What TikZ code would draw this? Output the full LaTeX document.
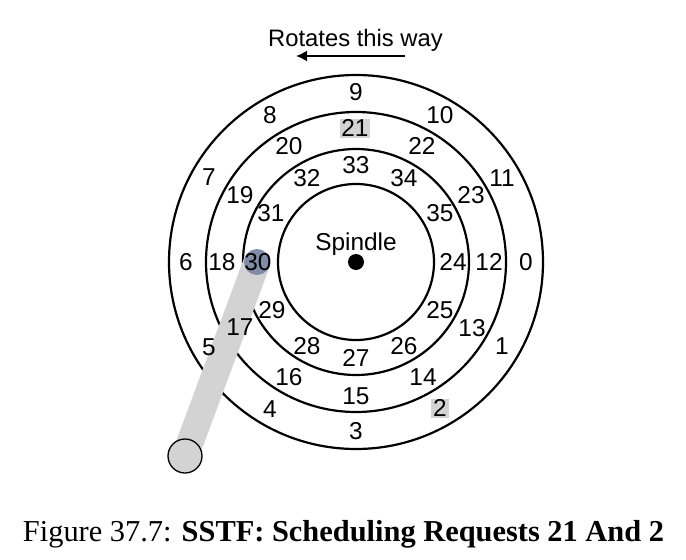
\documentclass[tikz,border=0pt]{standalone}
\usepackage{fontspec}
\setmainfont{Liberation Sans}
\newfontfamily\capfont{Liberation Serif}
\usetikzlibrary{arrows.meta}
\definecolor{armgrey}{HTML}{D3D3D3}
\definecolor{headblue}{HTML}{7F8EA6}
\tikzset{
  x=1pt,y=-1pt,
  ring/.style={circle,draw=black,line width=2.2pt,inner sep=0pt,outer sep=0pt,fill=none},
  sector/.style={inner sep=0pt,font=\fontsize{24.4}{26}\selectfont},
  req/.style={sector,fill=armgrey,minimum width=30pt,minimum height=19pt},
  reqsmall/.style={req,minimum width=18pt},
}
\begin{document}
\begin{tikzpicture}
\useasboundingbox (0,0) rectangle (686,560);
% platters
\node[ring,minimum size=374pt] (r4) at (356,262) {};
\node[ring,minimum size=300pt] (r3) at (356,262) {};
\node[ring,minimum size=226pt] (r2) at (356,262) {};
\node[ring,minimum size=156pt] (r1) at (356,262) {};
\node[circle,fill=black,inner sep=0pt,minimum size=16pt] (dot) at (356,262) {};
\node[sector] (spindle) at (356,244) {Spindle};
% arm
\coordinate (base) at (185,456);
\coordinate (head) at (257,262);
\draw[armgrey,line width=27pt] (head) -- (base);
\node[circle,fill=armgrey,draw=black,line width=1.3pt,minimum size=34pt,inner sep=0pt] (basedisc) at (base) {};
\node[circle,fill=headblue,inner sep=0pt,minimum size=26pt] (headdisc) at (head) {};
% title
\node[sector,font=\fontsize{23.8}{25}\selectfont] (title) at (355.5,40) {Rotates this way};
\coordinate (arrS) at (405,56);
\coordinate (arrE) at (296,56);
\draw[line width=1.8pt,-{Latex[length=11pt,width=11pt]}] (arrS) -- (arrE);
% outer track
\node[sector] (s9) at (356,92) {9};
\node[sector] (s8) at (270,115) {8};
\node[sector] (s10) at (440,115) {10};
\node[sector] (s7) at (209,177) {7};
\node[sector] (s11) at (502,178) {11};
\node[sector] (s6) at (186,262) {6};
\node[sector] (s0) at (526,262) {0};
\node[sector] (s5) at (209,347) {5};
\node[sector] (s1) at (502,346) {1};
\node[sector] (s4) at (270,409) {4};
\node[reqsmall] (s2) at (440,408) {2};
\node[sector] (s3) at (356,431) {3};
% middle track
\node[req] (s21) at (355,128) {21};
\node[sector] (s20) at (289,146) {20};
\node[sector] (s22) at (422,146) {22};
\node[sector] (s19) at (240,195) {19};
\node[sector] (s23) at (471,195) {23};
\node[sector] (s18) at (222,262) {18};
\node[sector] (s12) at (489,262) {12};
\node[sector] (s17) at (240,327) {17};
\node[sector] (s13) at (472,328) {13};
\node[sector] (s16) at (289,377) {16};
\node[sector] (s14) at (423,377) {14};
\node[sector] (s15) at (356,396) {15};
% inner track
\node[sector] (s33) at (356,165) {33};
\node[sector] (s32) at (307,178) {32};
\node[sector] (s34) at (404,178) {34};
\node[sector] (s31) at (271,213) {31};
\node[sector] (s35) at (440,213) {35};
\node[sector] (s30) at (258,262) {30};
\node[sector] (s24) at (453,262) {24};
\node[sector] (s29) at (272,310) {29};
\node[sector] (s25) at (440,310) {25};
\node[sector] (s28) at (307,346) {28};
\node[sector] (s26) at (404,346) {26};
\node[sector] (s27) at (356,358) {27};
% caption
\node[inner sep=0pt,font=\fontsize{30.4}{32}\capfont] (cap) at (343.5,534) {Figure 37.7: \textbf{SSTF: Scheduling Requests 21 And 2}};
\end{tikzpicture}
\end{document}
